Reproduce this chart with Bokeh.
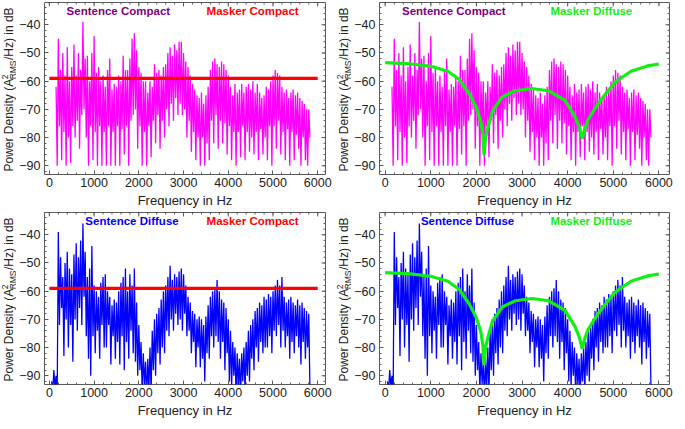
import numpy as np
from bokeh.plotting import figure
from bokeh.models import FixedTicker, Range1d, ColumnDataSource
from bokeh.layouts import column, row
from bokeh.embed import file_html
from bokeh.resources import INLINE
from bokeh.core.properties import value

# ---------------- data ----------------
bin_width = 50  # Hz per envelope bin

# Sentence Compact spectrum: per-bin upper / lower excursion (dB), bins start at 150 Hz
sc_start = 150
sc_hi = [-62, -45, -56, -50, -58, -48, -60, -55,
         -47, -58, -50, -56, -39, -52, -51, -60,
         -50, -44, -57, -55, -60, -58, -62, -56,
         -52, -63, -61, -62, -58, -60, -51, -56,
         -56, -52, -45, -43, -49, -55, -57, -60,
         -60, -64, -60, -62, -54, -57, -56, -58,
         -55, -54, -50, -48, -51, -47, -49, -46,
         -46, -50, -53, -55, -58, -61, -63, -65,
         -66, -64, -68, -65, -62, -56, -53, -52,
         -54, -55, -53, -54, -56, -58, -62, -65,
         -61, -64, -63, -61, -64, -62, -61, -63,
         -60, -64, -61, -64, -66, -65, -62, -63,
         -60, -58, -56, -57, -58, -62, -64, -63,
         -66, -64, -63, -65, -64, -66, -67, -68,
         -70, -70]
sc_lo = [-90, -76, -88, -78, -90, -80, -89, -76,
         -80, -74, -84, -72, -70, -80, -90, -76,
         -88, -78, -90, -76, -90, -78, -90, -76,
         -90, -78, -90, -76, -90, -77, -86, -76,
         -90, -74, -72, -70, -84, -76, -90, -78,
         -90, -76, -87, -74, -82, -72, -84, -74,
         -80, -70, -76, -68, -74, -66, -72, -68,
         -72, -70, -80, -74, -85, -78, -88, -80,
         -90, -80, -90, -82, -88, -74, -82, -72,
         -84, -74, -82, -75, -86, -76, -88, -78,
         -90, -78, -87, -76, -88, -78, -85, -80,
         -86, -78, -88, -77, -86, -80, -88, -76,
         -90, -76, -84, -74, -86, -78, -88, -77,
         -90, -78, -88, -79, -84, -90, -80, -88,
         -90, -80]

# Sentence Diffuse spectrum: per-bin upper / lower excursion (dB), bins start at 50 Hz
sd_start = 50
sd_hi = [-92, -88, -90, -39, -48, -55, -50, -46,
         -52, -54, -47, -43, -48, -42, -36, -46,
         -55, -52, -44, -58, -60, -62, -57, -55,
         -54, -60, -62, -65, -63, -64, -60, -57,
         -55, -52, -60, -54, -58, -52, -64, -72,
         -78, -82, -85, -84, -80, -74, -70, -68,
         -66, -63, -60, -58, -55, -51, -56, -54,
         -55, -53, -52, -54, -58, -62, -64, -67,
         -68, -70, -69, -70, -72, -69, -65, -62,
         -60, -59, -56, -60, -63, -64, -66, -70,
         -74, -78, -80, -82, -84, -82, -80, -78,
         -74, -72, -70, -67, -66, -64, -65, -62,
         -63, -61, -62, -60, -58, -56, -58, -55,
         -62, -64, -63, -62, -64, -65, -63, -65,
         -64, -66, -67, -68]
sd_lo = [-96, -94, -97, -72, -66, -83, -70, -80,
         -72, -85, -70, -74, -66, -72, -62, -76,
         -84, -90, -76, -82, -74, -84, -72, -80,
         -80, -72, -86, -76, -84, -78, -86, -76,
         -88, -78, -84, -74, -82, -85, -90, -88,
         -96, -93, -98, -95, -96, -88, -90, -82,
         -86, -80, -82, -74, -76, -70, -74, -68,
         -72, -70, -74, -68, -76, -74, -82, -78,
         -87, -80, -87, -84, -92, -82, -84, -76,
         -80, -76, -78, -84, -78, -88, -82, -92,
         -94, -90, -97, -94, -98, -92, -96, -90,
         -92, -84, -88, -80, -85, -78, -82, -80,
         -80, -76, -82, -74, -76, -72, -80, -74,
         -80, -76, -84, -78, -82, -76, -80, -86,
         -78, -84, -80, -94]

# Masker Compact: flat level
mc_freq = [0, 6000]
mc_db = [-59, -59]

# Masker Diffuse: curve with two notches
md_freq = [0, 500, 1000, 1375, 1625, 1845, 1990, 2095, 2140, 2168, 2200, 2242, 2350, 2567,
           2857, 3218, 3580, 3941, 4158, 4250, 4320, 4380, 4447, 4664, 5026, 5388, 5749, 6000]
md_db = [-53.4, -53.8, -54.7, -56.5, -59.4, -64.6, -69.1, -74.2, -79.0, -86.2, -80.0, -77.0,
         -70.7, -65.6, -63.4, -62.6, -63.4, -66.8, -72.5, -76.0, -80.5, -76.5, -73.6, -68.0,
         -60.5, -56.5, -54.6, -53.9]

x_ticks = [0, 1000, 2000, 3000, 4000, 5000, 6000]
x_minor = list(range(0, 6001, 200))
y_ticks = [-90, -80, -70, -60, -50, -40]
y_minor = list(range(-92, -31, 2))
y_tick_labels = ["\u221290", "\u221280", "\u221270", "\u221260", "\u221250", "\u221240"]

FONT = "Liberation Sans"
TXT = "#222222"
FRAME = "#5a5a5a"

H = 210          # figure height
BT, BB = 2, 35   # top / bottom borders
FH = H - BT - BB  # frame height
YR = (-93.1, -32.1)


def zigzag(start, hi, lo):
    f = start + bin_width * np.arange(len(hi))
    xs = np.empty(2 * len(hi))
    ys = np.empty(2 * len(hi))
    xs[0::2] = f
    xs[1::2] = f + bin_width / 2
    ys[0::2] = hi
    ys[1::2] = lo
    return xs, ys


def ylabel_fig():
    W = 16
    f = figure(width=W, height=H, x_range=Range1d(0, W), y_range=Range1d(0, FH),
               output_backend="svg", toolbar_location=None,
               min_border_left=0, min_border_right=0,
               min_border_top=BT, min_border_bottom=BB,
               x_axis_type=None, y_axis_type=None, outline_line_color=None,
               background_fill_color="white", border_fill_color="white")
    f.grid.visible = False
    fs, sfs = 12, 8.5
    xc = 8.5
    y = 3
    common = dict(angle=np.pi / 2, text_align="left", text_baseline="middle",
                  text_font=value(FONT), text_color=TXT)
    f.text(x=[xc], y=[y], text=["Power Density (A"], text_font_size=f"{fs}px", **common)
    y += (7058 + 667) / 1000 * fs
    f.text(x=[xc - 4], y=[y], text=["2"], text_font_size=f"{sfs}px", **common)
    f.text(x=[xc + 3.5], y=[y], text=["RMS"], text_font_size=f"{sfs}px", **common)
    y += 2222 / 1000 * sfs + 0.5
    f.text(x=[xc], y=[y], text=["/Hz) in dB"], text_font_size=f"{fs}px", **common)
    return f


def panel(col, sent, masker, titles):
    if col == 0:
        w, bl, br, xr = 319, 27, 10, (-109, 6174)
    else:
        w, bl, br, xr = 324, 27, 6, (-124, 6232)
    fw = w - bl - br
    p = figure(width=w, height=H, x_range=Range1d(*xr), y_range=Range1d(*YR),
               output_backend="svg", toolbar_location=None,
               min_border_left=bl, min_border_right=br,
               min_border_top=BT, min_border_bottom=BB,
               background_fill_color="white", border_fill_color="white")
    p.xgrid.visible = False
    p.ygrid.visible = False
    p.outline_line_color = FRAME
    p.outline_line_width = 1

    # spectrum
    xs, ys = zigzag(*sent[:3])
    p.line(xs, ys, line_color=sent[3], line_width=1.3, line_alpha=1.0)
    # masker
    p.line(masker[0], masker[1], line_color=masker[2], line_width=3.2)

    # titles
    src = ColumnDataSource(dict(x=titles[0], y=[-35, -35], t=titles[1], c=titles[2]))
    p.text(x="x", y="y", text="t", text_color="c", source=src, text_align="center",
           text_baseline="middle", text_font=value(FONT), text_font_style="bold",
           text_font_size="11.5px")

    # frame ticks on top and right (inside)
    dx = (xr[1] - xr[0]) / fw
    dy = (YR[1] - YR[0]) / FH
    p.segment(x0=x_ticks, x1=x_ticks, y0=[YR[1]] * len(x_ticks),
              y1=[YR[1] - 4 * dy] * len(x_ticks), line_color=FRAME, line_width=1)
    p.segment(x0=x_minor, x1=x_minor, y0=[YR[1]] * len(x_minor),
              y1=[YR[1] - 2 * dy] * len(x_minor), line_color=FRAME, line_width=1)
    p.segment(x0=[xr[1]] * len(y_ticks), x1=[xr[1] - 4 * dx] * len(y_ticks),
              y0=y_ticks, y1=y_ticks, line_color=FRAME, line_width=1)
    p.segment(x0=[xr[1]] * len(y_minor), x1=[xr[1] - 2 * dx] * len(y_minor),
              y0=y_minor, y1=y_minor, line_color=FRAME, line_width=1)

    # axes
    for ax in p.xaxis:
        ax.ticker = FixedTicker(ticks=x_ticks, minor_ticks=x_minor)
        ax.axis_label = "Frequency in Hz"
        ax.axis_label_text_font_style = "normal"
        ax.axis_label_text_font_size = "13px"
        ax.axis_label_text_font = FONT
        ax.axis_label_text_color = TXT
        ax.axis_label_standoff = 3
        ax.major_label_standoff = 3
    for ax in p.yaxis:
        ax.ticker = FixedTicker(ticks=y_ticks, minor_ticks=y_minor)
        ax.major_label_overrides = dict(zip(y_ticks, y_tick_labels))
        ax.major_label_standoff = 4
    for ax in list(p.xaxis) + list(p.yaxis):
        ax.major_label_text_font_size = "12.5px"
        ax.major_label_text_font = FONT
        ax.major_label_text_color = TXT
        ax.axis_line_color = None
        ax.major_tick_in = 4
        ax.major_tick_out = 0
        ax.minor_tick_in = 2
        ax.minor_tick_out = 0
        ax.major_tick_line_color = FRAME
        ax.minor_tick_line_color = FRAME
    return p


SC = (sc_start, sc_hi, sc_lo, "#FF00FF")
SD = (sd_start, sd_hi, sd_lo, "#0000FF")
MC = (mc_freq, mc_db, "#FF0000")
MD = (md_freq, md_db, "#11EE11")

p1 = panel(0, SC, MC, ([1543, 4544], ["Sentence Compact", "Masker Compact"], ["#800080", "#FF0000"]))
p2 = panel(1, SC, MD, ([1503, 4518], ["Sentence Compact", "Masker Diffuse"], ["#800080", "#11EE11"]))
p3 = panel(0, SD, MC, ([1848, 4544], ["Sentence Diffuse", "Masker Compact"], ["#0000FF", "#FF0000"]))
p4 = panel(1, SD, MD, ([1807, 4518], ["Sentence Diffuse", "Masker Diffuse"], ["#0000FF", "#11EE11"]))

layout = column(row(ylabel_fig(), p1, ylabel_fig(), p2),
                row(ylabel_fig(), p3, ylabel_fig(), p4))
open("out.html", "w").write(file_html(layout, INLINE))
